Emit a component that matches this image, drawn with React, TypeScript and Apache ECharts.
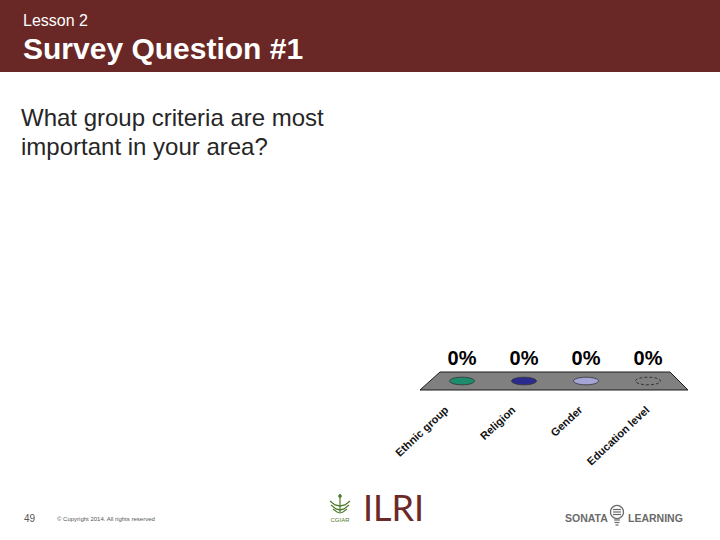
import React, { useEffect, useRef } from "react";
import * as echarts from "echarts";

const categories = ["Ethnic group", "Religion", "Gender", "Education level"];
const values = [0, 0, 0, 0];
const barColors = ["#1d8c6c", "#2b2b8e", "#a4a4d6", "none"];
const title = "Survey Question #1";
const lessonLabel = "Lesson 2";
const questionLines = ["What group criteria are most", "important in your area?"];

export default function App() {
  const ref = useRef<HTMLDivElement>(null);
  useEffect(() => {
    if (!ref.current) return;
    const chart = echarts.init(ref.current, null, { renderer: "svg" });
    const option: any = {
      animation: false,
      backgroundColor: "#ffffff",
      grid: [
        { left: 431, width: 248, top: 300, height: 81 },
        { left: 413, width: 268, top: 300, height: 92 },
      ],
      xAxis: [
        {
          gridIndex: 0,
          type: "category",
          data: categories,
          axisLine: { show: false },
          axisTick: { show: false },
          axisLabel: { show: false },
        },
        {
          gridIndex: 1,
          type: "category",
          data: categories,
          axisLine: { show: false },
          axisTick: { show: false },
          axisLabel: {
            show: true,
            rotate: 43,
            margin: 16,
            interval: 0,
            fontFamily: "Liberation Sans, Arial, sans-serif",
            fontWeight: "bold",
            fontSize: 11,
            color: "#111111",
          },
        },
      ],
      yAxis: [
        { gridIndex: 0, type: "value", min: 0, max: 100, show: false },
        { gridIndex: 1, type: "value", min: 0, max: 100, show: false },
      ],
      series: [
        {
          type: "custom",
          xAxisIndex: 0,
          yAxisIndex: 0,
          z: 1,
          data: [[0, 0]],
          renderItem: (params: any, api: any) => {
            const cs = params.coordSys;
            const base = api.coord([0, 0])[1];
            const x0 = cs.x;
            const x1 = cs.x + cs.width;
            return {
              type: "polygon",
              shape: {
                points: [
                  [x0 + 9, base - 9],
                  [x1 - 9, base - 9],
                  [x1 + 9, base + 9],
                  [x0 - 11, base + 9],
                ],
              },
              style: { fill: "#808080", stroke: "#1a1a1a", lineWidth: 1 },
            };
          },
        },
        {
          type: "custom",
          xAxisIndex: 0,
          yAxisIndex: 0,
          z: 2,
          data: values.map((v, i) => [i, v]),
          renderItem: (params: any, api: any) => {
            const i = params.dataIndex;
            const p = api.coord([api.value(0), api.value(1)]);
            const color = barColors[i];
            const dashed = color === "none";
            return {
              type: "group",
              children: [
                {
                  type: "ellipse",
                  shape: { cx: p[0], cy: p[1], rx: 12.5, ry: 3.8 },
                  style: {
                    fill: dashed ? "none" : color,
                    stroke: dashed ? "#222222" : "#333333",
                    lineWidth: 0.8,
                    lineDash: dashed ? [3, 2] : null,
                  },
                },
                {
                  type: "text",
                  x: p[0],
                  y: p[1] - 23,
                  style: {
                    text: `${api.value(1)}%`,
                    align: "center",
                    verticalAlign: "middle",
                    fontFamily: "Liberation Sans, Arial, sans-serif",
                    fontWeight: "bold",
                    fontSize: 20,
                    fill: "#000000",
                  },
                },
              ],
            };
          },
        },
      ],
      graphic: [
        {
          type: "rect",
          shape: { x: 0, y: 0, width: 720, height: 72 },
          style: { fill: "#692825" },
          silent: true,
        },
        {
          type: "text",
          x: 23,
          y: 20,
          style: {
            text: lessonLabel,
            fill: "#ffffff",
            font: "16px 'Liberation Sans', Arial, sans-serif",
            verticalAlign: "middle",
          },
        },
        {
          type: "text",
          x: 23,
          y: 48,
          style: {
            text: title,
            fill: "#ffffff",
            font: "bold 30px 'Liberation Sans', Arial, sans-serif",
            verticalAlign: "middle",
          },
        },
        {
          type: "text",
          x: 21,
          y: 117,
          style: {
            text: questionLines[0],
            fill: "#262626",
            font: "24px 'Liberation Sans', Arial, sans-serif",
            verticalAlign: "middle",
          },
        },
        {
          type: "text",
          x: 21,
          y: 146,
          style: {
            text: questionLines[1],
            fill: "#262626",
            font: "24px 'Liberation Sans', Arial, sans-serif",
            verticalAlign: "middle",
          },
        },
        {
          type: "text",
          x: 24,
          y: 518,
          style: {
            text: "49",
            fill: "#555555",
            font: "10px 'Liberation Sans', Arial, sans-serif",
            verticalAlign: "middle",
          },
        },
        {
          type: "text",
          x: 57,
          y: 519,
          style: {
            text: "© Copyright 2014. All rights reserved",
            fill: "#555555",
            font: "6px 'Liberation Sans', Arial, sans-serif",
            verticalAlign: "middle",
          },
        },
        // CGIAR mark
        {
          type: "group",
          children: [
            { type: "line", shape: { x1: 340, y1: 494, x2: 340, y2: 512 }, style: { stroke: "#4f7a2a", lineWidth: 1.2 } },
            { type: "circle", shape: { cx: 340, cy: 496, r: 1.8 }, style: { fill: "#4f7a2a" } },
            { type: "polyline", shape: { points: [[330, 501], [335, 505], [340, 506], [345, 505], [350, 501]] }, style: { stroke: "#4f7a2a", lineWidth: 1.3, fill: "none" } },
            { type: "polyline", shape: { points: [[331, 505], [336, 509], [340, 510], [344, 509], [349, 505]] }, style: { stroke: "#4f7a2a", lineWidth: 1.3, fill: "none" } },
            { type: "polyline", shape: { points: [[333, 509], [337, 512], [340, 513], [343, 512], [347, 509]] }, style: { stroke: "#4f7a2a", lineWidth: 1.1, fill: "none" } },
            {
              type: "text",
              x: 340,
              y: 520,
              style: { text: "CGIAR", fill: "#4f7a2a", font: "6px 'Liberation Sans', Arial, sans-serif", align: "center", verticalAlign: "middle" },
            },
          ],
        },
        {
          type: "text",
          x: 363,
          y: 507,
          style: {
            text: "ILRI",
            fill: "#6b2a27",
            font: "36px Lato, 'Open Sans', sans-serif",
            verticalAlign: "middle",
          },
        },
        // Sonata Learning
        {
          type: "text",
          x: 565,
          y: 518,
          style: { text: "SONATA", fill: "#6a6a6a", font: "bold 10.5px 'Liberation Sans', Arial, sans-serif", verticalAlign: "middle" },
        },
        {
          type: "group",
          children: [
            { type: "circle", shape: { cx: 617, cy: 512, r: 6.5 }, style: { fill: "#ffffff", stroke: "#6a6a6a", lineWidth: 1.3 } },
            { type: "line", shape: { x1: 613, y1: 509.5, x2: 621, y2: 509.5 }, style: { stroke: "#6a6a6a", lineWidth: 1.2 } },
            { type: "line", shape: { x1: 613, y1: 512, x2: 621, y2: 512 }, style: { stroke: "#6a6a6a", lineWidth: 1.2 } },
            { type: "line", shape: { x1: 613, y1: 514.5, x2: 621, y2: 514.5 }, style: { stroke: "#6a6a6a", lineWidth: 1.2 } },
            { type: "line", shape: { x1: 614, y1: 520, x2: 620, y2: 520 }, style: { stroke: "#6a6a6a", lineWidth: 1.2 } },
            { type: "line", shape: { x1: 614.5, y1: 522.5, x2: 619.5, y2: 522.5 }, style: { stroke: "#6a6a6a", lineWidth: 1.2 } },
            { type: "line", shape: { x1: 615.5, y1: 525, x2: 618.5, y2: 525 }, style: { stroke: "#6a6a6a", lineWidth: 1.2 } },
          ],
        },
        {
          type: "text",
          x: 628,
          y: 518,
          style: { text: "LEARNING", fill: "#6a6a6a", font: "bold 10.5px 'Liberation Sans', Arial, sans-serif", verticalAlign: "middle" },
        },
      ],
    };
    chart.setOption(option);
    return () => chart.dispose();
  }, []);
  return (
    <div
      ref={ref}
      style={{ position: "absolute", left: 0, top: 0, width: 720, height: 540 }}
    />
  );
}
